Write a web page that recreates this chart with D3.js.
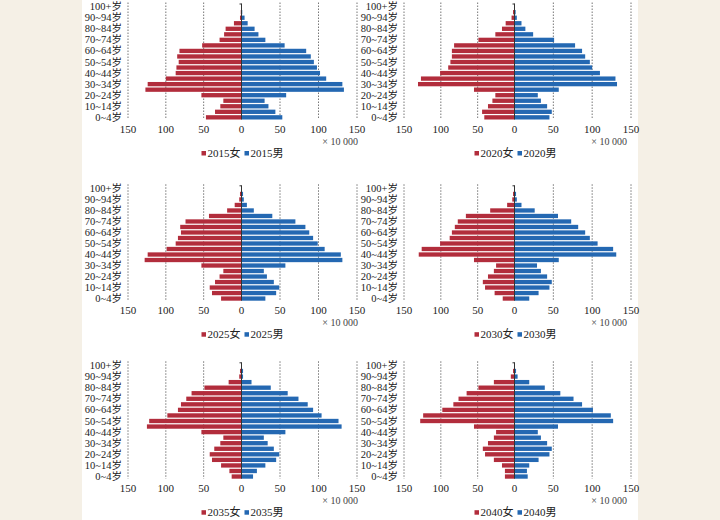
<!DOCTYPE html>
<html>
<head>
<meta charset="utf-8">
<title>Population pyramids 2015-2040</title>
<style>
body { margin: 0; background: #f5f0e6; }
svg { display: block; }
text { font-family: "Liberation Serif", "Times New Roman", "Noto Sans CJK SC", serif; fill: #222; }
</style>
</head>
<body>
<div id="chart"></div>
<script src="https://cdn.jsdelivr.net/npm/d3@7"></script>
<script>
// age groups, youngest first
var ages = ["0~4岁","5~9岁","10~14岁","15~19岁","20~24岁","25~29岁","30~34岁","35~39岁","40~44岁","45~49岁",
            "50~54岁","55~59岁","60~64岁","65~69岁","70~74岁","75~79岁","80~84岁","85~89岁","90~94岁","95~99岁","100+岁"];
var ticks = [-150, -100, -50, 0, 50, 100, 150];

// population, x 10 000
var f2015 = [47,35,28,24,53,127,124,100,87,86,83,85,82,52,29,23,21,10,2,1,0.5];
var m2015 = [53,44,35,30,58,133,131,110,102,98,94,90,84,56,31,22,17,8,4,1,0.5];
var f2020 = [41,44,36,30,26,55,131,127,101,90,87,85,85,82,49,26,17,12,4,2,0.5];
var m2020 = [45,48,42,34,30,57,132,130,110,100,97,91,87,78,51,24,14,9,3,1.5,0.5];
var f2025 = [27,39,42,35,29,24,53,128,124,99,87,84,80,81,74,43,19,9,3,2,0.5];
var m2025 = [31,45,49,42,33,29,57,131,129,108,99,93,88,83,70,40,16,7,3,2,0.5];
var f2030 = [16,27,40,43,36,28,25,55,130,126,101,88,85,81,77,66,33,10,3,2,0.5];
var m2030 = [19,31,45,48,42,34,29,57,131,127,107,97,91,82,73,56,26,9,3,2,0.5];
var f2035 = [13,16,27,39,42,36,28,24,53,125,122,98,84,80,73,66,49,17,3,2,0.5];
var m2035 = [15,20,31,45,49,42,34,29,57,130,126,104,93,86,74,60,38,13,2,2,0.5];
var f2040 = [13,13,17,28,40,43,36,28,25,55,128,124,98,83,76,65,49,28,5,2,0.5];
var m2040 = [17,16,19,31,45,48,42,34,30,56,127,124,101,87,76,59,39,19,4,2,0.5];

var red = "#b22d3c", blue = "#2468b2";

var svg = d3.select("#chart").append("svg").attr("width", 720).attr("height", 520);
svg.append("rect").attr("width", 720).attr("height", 520).attr("fill", "#f5f0e6");
svg.append("rect").attr("x", 82).attr("width", 556).attr("height", 520).attr("fill", "#ffffff");

var left = [128, 241.5, 357], right = [404, 514.5, 631];
var panels = [
  {year: 2015, f: f2015, m: m2015, xr: left,  yr: [4.5, 119.5]},
  {year: 2020, f: f2020, m: m2020, xr: right, yr: [4.5, 119.5]},
  {year: 2025, f: f2025, m: m2025, xr: left,  yr: [186.3, 300.7]},
  {year: 2030, f: f2030, m: m2030, xr: right, yr: [186.3, 300.7]},
  {year: 2035, f: f2035, m: m2035, xr: left,  yr: [363.3, 478.7]},
  {year: 2040, f: f2040, m: m2040, xr: right, yr: [363.3, 478.7]}
];

panels.forEach(function (p) {
  var g = svg.append("g");
  var x = d3.scaleLinear().domain([-150, 0, 150]).range(p.xr);
  var y = d3.scaleBand().domain(ages.slice().reverse()).range(p.yr).paddingInner(0.22);
  var top = p.yr[0], bottom = p.yr[1];

  // dotted gridlines
  g.selectAll(".grid").data(ticks.filter(function (t) { return t !== 0; }))
    .enter().append("line")
      .attr("x1", function (d) { return x(d); }).attr("x2", function (d) { return x(d); })
      .attr("y1", top - 2).attr("y2", bottom)
      .attr("stroke", "#777").attr("stroke-width", 1).attr("stroke-dasharray", "1.5,1.5");

  // female bars to the left
  g.selectAll(".f").data(p.f).enter().append("rect")
    .attr("x", function (d) { return x(-d); })
    .attr("y", function (d, i) { return y(ages[i]); })
    .attr("width", function (d) { return x(0) - x(-d); })
    .attr("height", y.bandwidth())
    .attr("fill", red);

  // male bars to the right
  g.selectAll(".m").data(p.m).enter().append("rect")
    .attr("x", x(0))
    .attr("y", function (d, i) { return y(ages[i]); })
    .attr("width", function (d) { return x(d) - x(0); })
    .attr("height", y.bandwidth())
    .attr("fill", blue);

  // zero axis
  g.append("line").attr("x1", x(0)).attr("x2", x(0)).attr("y1", top - 1).attr("y2", bottom)
    .attr("stroke", "#333").attr("stroke-width", 1);
  g.append("line").attr("x1", x(0) - 2).attr("x2", x(0)).attr("y1", top - 0.5).attr("y2", top - 0.5)
    .attr("stroke", "#333").attr("stroke-width", 1);

  // age labels, every other group
  g.selectAll(".age").data(ages.filter(function (d, i) { return i % 2 === 0; }))
    .enter().append("text")
      .attr("x", x(-150) - 6)
      .attr("y", function (d) { return y(d) + y.bandwidth() / 2 + 3.5; })
      .attr("text-anchor", "end")
      .style("font-size", "10.5px")
      .text(function (d) { return d; });

  // x tick labels
  g.selectAll(".tick").data(ticks).enter().append("text")
    .attr("x", function (d) { return x(d); })
    .attr("y", bottom + 13.5)
    .attr("text-anchor", "middle")
    .style("font-size", "11px")
    .text(function (d) { return Math.abs(d); });

  g.append("text")
    .attr("x", p.xr === left ? 358 : 627)
    .attr("y", bottom + 25.5)
    .attr("text-anchor", "end")
    .style("font-size", "10px")
    .style("fill", "#444")
    .text("× 10 000");

  // legend
  var lg = g.append("g");
  var t1 = lg.append("text").attr("x", 6).attr("y", 0).style("font-size", "11px").text(p.year + "女");
  var w1 = t1.node().getComputedTextLength();
  lg.append("rect").attr("x", 0).attr("y", -6).attr("width", 4.5).attr("height", 4.5).attr("fill", red);
  lg.append("rect").attr("x", 6 + w1 + 4).attr("y", -6).attr("width", 4.5).attr("height", 4.5).attr("fill", blue);
  var t2 = lg.append("text").attr("x", 6 + w1 + 10).attr("y", 0).style("font-size", "11px").text(p.year + "男");
  var total = 6 + w1 + 10 + t2.node().getComputedTextLength();
  lg.attr("transform", "translate(" + (x(0) + 1 - total / 2) + "," + (bottom + 37.5) + ")");
});
</script>
</body>
</html>
